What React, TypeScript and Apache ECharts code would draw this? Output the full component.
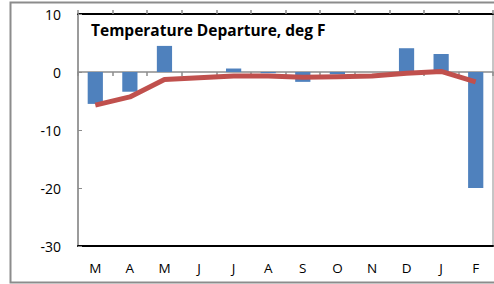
import React, { useEffect, useRef } from "react";
import * as echarts from "echarts";

const categories = ["M", "A", "M", "J", "J", "A", "S", "O", "N", "D", "J", "F"];
const departures = [-5.5, -3.4, 4.5, 0, 0.6, -0.2, -1.7, -0.4, 0, 4.1, 3.1, -20];
const trend = [-5.7, -4.3, -1.3, -1.0, -0.7, -0.7, -0.9, -0.8, -0.7, -0.2, 0.1, -1.7];
const yTicks = { min: -30, max: 10, interval: 10 };
const titleText = "Temperature Departure, deg F";

const FONT = "'Open Sans', sans-serif";

export default function App() {
  const ref = useRef<HTMLDivElement>(null);
  useEffect(() => {
    if (!ref.current) return;
    const chart = echarts.init(ref.current, null, { renderer: "svg" });
    const hiddenAxisBase = {
      type: "category" as const,
      data: categories,
      boundaryGap: true,
      axisLabel: { show: false },
      splitLine: { show: false },
    };
    chart.setOption({
      animation: false,
      backgroundColor: "#ffffff",
      title: {
        text: titleText,
        left: 86,
        top: 17,
        textStyle: { fontFamily: FONT, fontSize: 15.5, fontWeight: "bold", color: "#000" },
      },
      grid: { left: 78, right: 1, top: 14, bottom: 38, show: true, borderColor: "#8c8c8c", borderWidth: 1 },
      xAxis: [
        {
          ...hiddenAxisBase,
          position: "bottom",
          axisLine: { onZero: false, lineStyle: { color: "#000", width: 2 } },
          axisTick: { show: false },
          axisLabel: { show: true, color: "#000", fontFamily: FONT, fontSize: 13.5, margin: 15 },
        },
        {
          ...hiddenAxisBase,
          position: "bottom",
          axisLine: { onZero: true, lineStyle: { color: "#8c8c8c", width: 1.5 } },
          axisTick: { show: true, length: 4, lineStyle: { color: "#8c8c8c", width: 1.5 } },
        },
        {
          ...hiddenAxisBase,
          position: "top",
          axisLine: { onZero: true, show: false, lineStyle: { color: "#8c8c8c" } },
          axisTick: { show: true, length: 4, lineStyle: { color: "#8c8c8c", width: 1.5 } },
        },
        {
          ...hiddenAxisBase,
          position: "top",
          axisLine: { onZero: false, lineStyle: { color: "#000", width: 2 } },
          axisTick: { show: false },
        },
      ],
      yAxis: {
        type: "value",
        min: yTicks.min,
        max: yTicks.max,
        interval: yTicks.interval,
        axisLine: { show: true, lineStyle: { color: "#8c8c8c", width: 1.5 } },
        axisTick: { show: true, inside: true, length: 4, lineStyle: { color: "#8c8c8c" } },
        splitLine: { show: false },
        axisLabel: { color: "#000", fontFamily: FONT, fontSize: 14, margin: 17 },
      },
      graphic: [
        {
          type: "rect",
          silent: true,
          z: -1,
          shape: { x: 10.5, y: 2.5, width: 500, height: 280 },
          style: { fill: "none", stroke: "#8c8c8c", lineWidth: 2 },
        },
      ],
      series: [
        {
          type: "bar",
          xAxisIndex: 0,
          data: departures,
          barWidth: "44%",
          itemStyle: { color: "#4f81bd" },
          z: 2,
        },
        {
          type: "line",
          xAxisIndex: 0,
          data: trend,
          symbol: "none",
          lineStyle: { color: "#c0504d", width: 5 },
          z: 3,
        },
      ],
    });
    return () => chart.dispose();
  }, []);
  return (
    <div
      ref={ref}
      style={{ position: "fixed", left: 0, top: 0, width: 494, height: 284 }}
    />
  );
}
